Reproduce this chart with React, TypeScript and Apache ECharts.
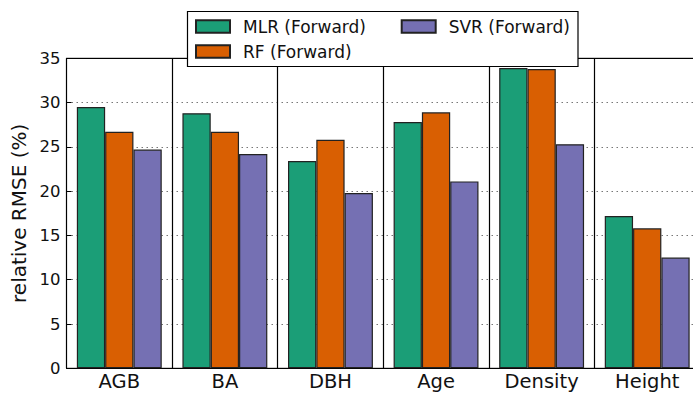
import React, { useEffect, useRef } from "react";
import * as echarts from "echarts";

const categories = ["AGB", "BA", "DBH", "Age", "Density", "Height"];
const mlrValues = [29.5, 28.8, 23.4, 27.8, 33.9, 17.2];
const rfValues = [26.7, 26.7, 25.8, 28.9, 33.8, 15.8];
const svrValues = [24.7, 24.2, 19.8, 21.1, 25.3, 12.5];
const seriesNames = ["MLR (Forward)", "RF (Forward)", "SVR (Forward)"];
const seriesColors = ["#1b9e77", "#d95f02", "#7570b3"];
const yTicks = { min: 0, max: 35, interval: 5 };

const FONT = "DejaVu Sans";

export default function App() {
  const ref = useRef<HTMLDivElement>(null);
  useEffect(() => {
    if (!ref.current) return;
    const chart = echarts.init(ref.current, null, { renderer: "svg" });
    const values = [mlrValues, rfValues, svrValues];
    chart.setOption({
      animation: false,
      backgroundColor: "#ffffff",
      grid: {
        left: 66.5,
        top: 58.3,
        bottom: 24.7,
        right: -7,
        outerBoundsMode: "none",
        containLabel: false,
        show: true,
        borderColor: "#000",
        borderWidth: 1,
        backgroundColor: "transparent",
      },
      xAxis: [
        {
          type: "category",
          data: categories,
          position: "bottom",
          axisLine: { lineStyle: { color: "#000", width: 1 } },
          axisTick: { inside: true, alignWithLabel: true, length: 5, lineStyle: { color: "#000" } },
          axisLabel: { color: "#111", fontFamily: FONT, fontSize: 19.5, margin: 3, lineHeight: 20 },
          splitLine: { show: true, lineStyle: { color: "#000", width: 1.2, type: "solid" } },
        },
        {
          type: "category",
          data: categories,
          position: "top",
          axisLine: { lineStyle: { color: "#000", width: 1 } },
          axisTick: { inside: true, alignWithLabel: true, length: 5, lineStyle: { color: "#000" } },
          axisLabel: { show: false },
          splitLine: { show: false },
        },
      ],
      yAxis: {
        type: "value",
        min: yTicks.min,
        max: yTicks.max,
        interval: yTicks.interval,
        name: "relative RMSE (%)",
        nameLocation: "middle",
        nameGap: 35,
        nameTextStyle: { fontFamily: FONT, fontSize: 20, color: "#111" },
        axisLine: { show: true, lineStyle: { color: "#000", width: 1 } },
        axisTick: { show: true, inside: true, length: 5, lineStyle: { color: "#000" } },
        axisLabel: { color: "#111", fontFamily: FONT, fontSize: 16.5, margin: 6 },
        splitLine: { show: true, lineStyle: { color: "#777", width: 1, type: [1.5, 3.5] } },
      },
      legend: [
        {
          data: [seriesNames[0], seriesNames[1]],
          orient: "vertical",
          left: 195,
          top: 18,
          padding: 0,
          itemWidth: 34,
          itemHeight: 12.5,
          itemGap: 8,
          icon: "rect",
          z: 20,
          textStyle: { fontFamily: FONT, fontSize: 17, color: "#111", padding: [0, 0, 0, 8] },
        },
        {
          data: [seriesNames[2]],
          orient: "vertical",
          left: 400.7,
          top: 18,
          padding: 0,
          itemWidth: 34,
          itemHeight: 12.5,
          icon: "rect",
          z: 20,
          textStyle: { fontFamily: FONT, fontSize: 17, color: "#111", padding: [0, 0, 0, 8] },
        },
      ],
      graphic: [
        {
          type: "rect",
          z: 10,
          shape: { x: 187.5, y: 11.5, width: 390.5, height: 55 },
          style: { fill: "#fff", stroke: "#000", lineWidth: 1.2 },
        },
      ],
      series: seriesNames.map((name, i) => ({
        name,
        type: "bar",
        data: values[i],
        barWidth: 28.3,
        barGap: "0%",
        itemStyle: { color: seriesColors[i], borderColor: "#222", borderWidth: 1.2 },
      })),
    });
    return () => chart.dispose();
  }, []);
  return <div ref={ref} style={{ width: 693, height: 393, position: "absolute", left: 0, top: 0 }} />;
}
